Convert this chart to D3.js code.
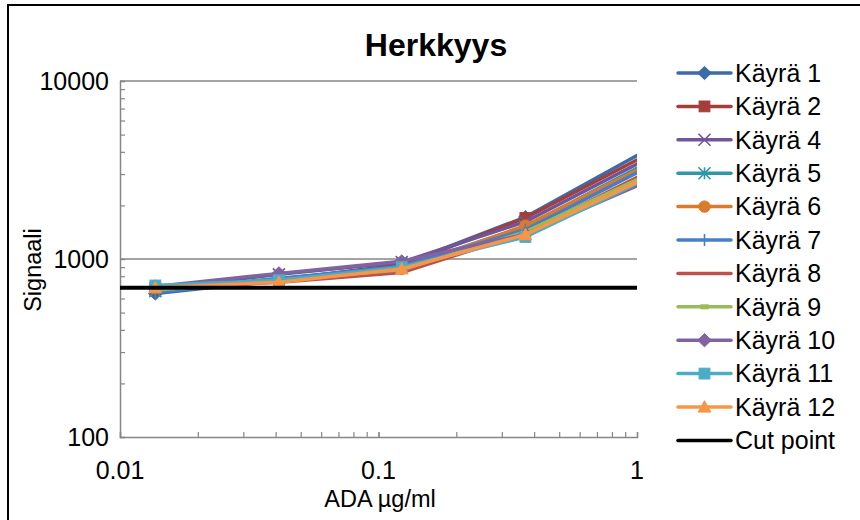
<!DOCTYPE html>
<html lang="fi">
<head>
<meta charset="utf-8">
<title>Herkkyys</title>
<script src="https://cdn.jsdelivr.net/npm/d3@7/dist/d3.min.js"></script>
<style>
  body { margin: 0; background: #fff; }
  svg { font-family: "Liberation Sans", Arial, sans-serif; }
</style>
</head>
<body>
<div id="chart"></div>
<script>
// Data
var concentrations = [0.0137, 0.0412, 0.123, 0.370, 1.11];
var seriesNames = ["Käyrä 1", "Käyrä 2", "Käyrä 4", "Käyrä 5", "Käyrä 6", "Käyrä 7",
                   "Käyrä 8", "Käyrä 9", "Käyrä 10", "Käyrä 11", "Käyrä 12"];
var seriesValues = [
  [640, 760, 930, 1720, 4150],
  [670, 770, 920, 1700, 3900],
  [680, 820, 960, 1620, 3700],
  [660, 780, 900, 1520, 3500],
  [690, 750, 880, 1540, 3400],
  [650, 770, 910, 1460, 3300],
  [680, 740, 840, 1400, 3100],
  [670, 760, 870, 1420, 3000],
  [700, 830, 970, 1380, 2750],
  [710, 760, 900, 1330, 2850],
  [690, 740, 880, 1370, 2900]
];
var cutName = "Cut point";
var cutX = [0.01, 1];
var cutY = [690, 690];
var xTicks = [0.01, 0.1, 1];
var yTicks = [100, 1000, 10000];

var colors = ["#3b6ca8", "#a53e3b", "#70559a", "#2f97a9", "#d97a2c", "#4a7ec4",
              "#c0504d", "#9bbb59", "#8064a2", "#4bacc6", "#f79646"];
var markers = ["diamond", "square", "x", "asterisk", "circle", "plus",
               "none", "dash", "diamond", "square", "triangle"];

var W = 860, H = 520;
var svg = d3.select("#chart").append("svg")
    .attr("width", W).attr("height", H);

// Outer chart frame
svg.append("rect")
    .attr("x", 8).attr("y", 5)
    .attr("width", W + 10).attr("height", H + 10)
    .attr("fill", "#fff").attr("stroke", "#000").attr("stroke-width", 2);

var plot = {left: 120, right: 637, top: 81, bottom: 437};

var x = d3.scaleLog().domain([0.01, 1]).range([plot.left, plot.right]);
var y = d3.scaleLog().domain([100, 10000]).range([plot.bottom, plot.top]);

var gray = "#868686";

// Horizontal gridlines
svg.append("g").selectAll("line")
    .data(yTicks.slice(1))
    .join("line")
    .attr("x1", plot.left).attr("x2", plot.right)
    .attr("y1", function(d) { return y(d); }).attr("y2", function(d) { return y(d); })
    .attr("stroke", gray).attr("stroke-width", 1.5);

// Minor tick values
var yMinor = [], xMinor = [];
[100, 1000].forEach(function(b) {
  for (var i = 1; i <= 10; i++) yMinor.push(b * i);
});
[0.01, 0.1].forEach(function(b) {
  for (var i = 1; i <= 10; i++) xMinor.push(+(b * i).toPrecision(3));
});

// Y axis
var yAxis = d3.axisRight(y).tickValues(yMinor).tickSize(5).tickFormat("");
var gy = svg.append("g").attr("transform", "translate(" + plot.left + ",0)").call(yAxis);
gy.select(".domain").attr("stroke", gray).attr("stroke-width", 1.5);
gy.selectAll(".tick line").attr("stroke", gray).attr("stroke-width", 1.2);

// X axis
var xAxis = d3.axisTop(x).tickValues(xMinor).tickSize(5).tickFormat("");
var gx = svg.append("g").attr("transform", "translate(0," + plot.bottom + ")").call(xAxis);
gx.select(".domain").attr("stroke", gray).attr("stroke-width", 1.5);
gx.selectAll(".tick line").attr("stroke", gray).attr("stroke-width", 1.2);

// Tick labels
svg.append("g").selectAll("text")
    .data(yTicks).join("text")
    .attr("x", 109).attr("y", function(d) { return y(d); })
    .attr("dy", "0.35em").attr("text-anchor", "end")
    .attr("font-size", 25).text(function(d) { return d; });

svg.append("g").selectAll("text")
    .data(xTicks).join("text")
    .attr("x", function(d) { return x(d); }).attr("y", 470)
    .attr("dy", "0.35em").attr("text-anchor", "middle")
    .attr("font-size", 25).text(function(d) { return d; });

// Titles
svg.append("text").attr("x", 436).attr("y", 56).attr("text-anchor", "middle")
    .attr("font-size", 32).attr("font-weight", "bold").text("Herkkyys");
svg.append("text").attr("x", 380).attr("y", 507).attr("text-anchor", "middle")
    .attr("font-size", 23.5).text("ADA µg/ml");
svg.append("text").attr("transform", "translate(41,270) rotate(-90)")
    .attr("text-anchor", "middle").attr("font-size", 23.5).text("Signaali");

// Marker drawing
function drawMarker(g, type, color, size) {
  var s = size / 2;
  if (type === "diamond") {
    g.append("path").attr("d", "M0," + (-s * 1.1) + "L" + (s * 1.15) + ",0L0," + (s * 1.1) + "L" + (-s * 1.15) + ",0Z")
      .attr("fill", color).attr("stroke", color);
  } else if (type === "square") {
    g.append("rect").attr("x", -s * 0.9).attr("y", -s * 0.9).attr("width", s * 1.8).attr("height", s * 1.8)
      .attr("fill", color).attr("stroke", color);
  } else if (type === "triangle") {
    g.append("path").attr("d", "M0," + (-s * 1.05) + "L" + (s * 1.05) + "," + (s * 0.85) + "L" + (-s * 1.05) + "," + (s * 0.85) + "Z")
      .attr("fill", color).attr("stroke", color);
  } else if (type === "circle") {
    g.append("circle").attr("r", s * 0.95).attr("fill", color).attr("stroke", color);
  } else if (type === "x") {
    g.append("path").attr("d", "M" + (-s) + "," + (-s) + "L" + s + "," + s + "M" + (-s) + "," + s + "L" + s + "," + (-s))
      .attr("stroke", color).attr("stroke-width", 1.6).attr("fill", "none");
  } else if (type === "asterisk") {
    g.append("path").attr("d", "M" + (-s) + "," + (-s) + "L" + s + "," + s + "M" + (-s) + "," + s + "L" + s + "," + (-s) +
        "M0," + (-s) + "L0," + s)
      .attr("stroke", color).attr("stroke-width", 1.6).attr("fill", "none");
  } else if (type === "plus") {
    g.append("path").attr("d", "M0," + (-s) + "L0," + s + "M" + (-s) + ",0L" + s + ",0")
      .attr("stroke", color).attr("stroke-width", 1.6).attr("fill", "none");
  } else if (type === "dash") {
    g.append("rect").attr("x", -s * 0.7).attr("y", -2.5).attr("width", s * 1.4).attr("height", 5)
      .attr("fill", color);
  }
}

// Clip to plot area
svg.append("clipPath").attr("id", "clip")
  .append("rect").attr("x", plot.left).attr("y", plot.top)
  .attr("width", plot.right - plot.left).attr("height", plot.bottom - plot.top);

var line = d3.line()
    .x(function(d) { return x(d[0]); })
    .y(function(d) { return y(d[1]); });

var dataG = svg.append("g").attr("clip-path", "url(#clip)");

seriesValues.forEach(function(vals, i) {
  var pts = concentrations.map(function(c, j) { return [c, vals[j]]; });
  dataG.append("path").datum(pts)
    .attr("d", line).attr("fill", "none")
    .attr("stroke", colors[i]).attr("stroke-width", 3.5)
    .attr("stroke-linejoin", "round");
  pts.forEach(function(p) {
    var g = dataG.append("g").attr("transform", "translate(" + x(p[0]) + "," + y(p[1]) + ")");
    drawMarker(g, markers[i], colors[i], 12);
  });
});

// Cut point line
dataG.append("path")
    .datum(cutX.map(function(c, j) { return [c, cutY[j]]; }))
    .attr("d", line).attr("fill", "none")
    .attr("stroke", "#000").attr("stroke-width", 4);

// Legend
var legendNames = seriesNames.concat([cutName]);
var legendColors = colors.concat(["#000"]);
var legendMarkers = markers.concat(["none"]);
var legend = svg.append("g");
legendNames.forEach(function(name, i) {
  var ly = 73 + i * 33.4;
  var g = legend.append("g").attr("transform", "translate(0," + ly + ")");
  g.append("line").attr("x1", 678).attr("x2", 731).attr("y1", 0).attr("y2", 0)
    .attr("stroke", legendColors[i]).attr("stroke-width", 3.5).attr("stroke-linecap", "round");
  var m = g.append("g").attr("transform", "translate(704.5,0)");
  drawMarker(m, legendMarkers[i], legendColors[i], 12);
  g.append("text").attr("x", 735).attr("y", 0).attr("dy", "0.35em")
    .attr("font-size", 25).text(name);
});
</script>
</body>
</html>
